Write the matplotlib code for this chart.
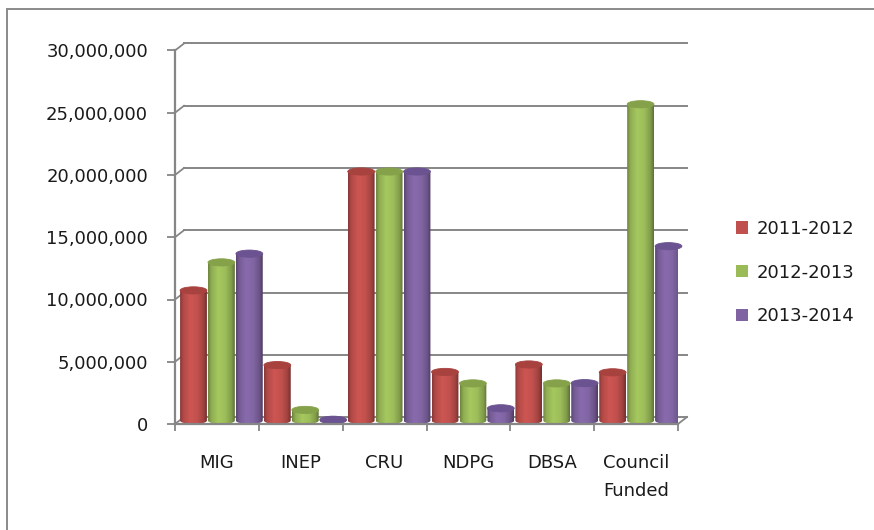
import numpy as np
import matplotlib
matplotlib.use("Agg")
import matplotlib.pyplot as plt
from matplotlib.patches import Ellipse, PathPatch, Rectangle, Patch
from matplotlib.path import Path
from matplotlib.transforms import ScaledTranslation

# ---- data -------------------------------------------------------------
categories = ["MIG", "INEP", "CRU", "NDPG", "DBSA", "Council\nFunded"]
series_names = ["2011-2012", "2012-2013", "2013-2014"]
values_2011_2012 = [10_450_000, 4_450_000, 20_000_000, 3_900_000, 4_500_000, 3_870_000]
values_2012_2013 = [12_700_000, 850_000, 20_000_000, 2_980_000, 2_980_000, 25_400_000]
values_2013_2014 = [13_400_000, 60_000, 20_000_000, 980_000, 3_000_000, 14_000_000]
y_ticks = [0, 5_000_000, 10_000_000, 15_000_000, 20_000_000, 25_000_000, 30_000_000]

series_values = [values_2011_2012, values_2012_2013, values_2013_2014]
base_colors = ["#C0504D", "#9BBB59", "#8064A2"]
top_colors = ["#A8423F", "#85A24A", "#6B5290"]

W, H, DPI = 874, 530, 100
plt.rcParams["font.family"] = ["DejaVu Sans"]
text_color = "#1a1a1a"
axis_color = "#868686"

fig = plt.figure(figsize=(W / DPI, H / DPI), dpi=DPI)
fig.patch.set_facecolor("white")

# chart-area border (only its left and top edges fall inside the image)
fig.add_artist(Rectangle((7 / W, -0.2), 1.5, 1 - 9 / H + 0.2,
                         transform=fig.transFigure, fill=False,
                         edgecolor="#8a8a8a", linewidth=1.4))

# front plane of the plot area
left_px, right_px, top_px, bottom_px = 175, 678, 50.5, 424
ax = fig.add_axes([left_px / W, (H - bottom_px) / H,
                   (right_px - left_px) / W, (bottom_px - top_px) / H])
ax.set_xlim(-0.5, len(categories) - 0.5)
ax.set_ylim(0, 30_000_000)
ax.patch.set_visible(False)

# pixel scales of the data axes
p00 = ax.transData.transform((0, 0))
sx = ax.transData.transform((1, 0))[0] - p00[0]
sy = (ax.transData.transform((0, 1_000_000))[1] - p00[1]) / 1_000_000


def depth(dx_px, dy_px):
    return ax.transData + ScaledTranslation(dx_px / DPI, dy_px / DPI, fig.dpi_scale_trans)


back_dx, back_dy = 9, 7
mid_dx, mid_dy = back_dx / 2, back_dy / 2
x_lo, x_hi = -0.5, len(categories) - 0.5

# back-wall gridlines and the short diagonals joining them to the front axis
for v in y_ticks:
    ax.plot([x_lo, x_hi], [v, v], color=axis_color, lw=1.4,
            transform=depth(back_dx, back_dy), clip_on=False, zorder=1)
    ax.plot([x_lo, x_lo + back_dx / sx], [v, v + back_dy / sy], color=axis_color,
            lw=1.3, clip_on=False, zorder=1)
ax.plot([x_hi, x_hi + back_dx / sx], [0, back_dy / sy], color=axis_color,
        lw=1.3, clip_on=False, zorder=6)

# cylinder columns
bar_w = 0.32
step = 0.333
ell_h = 3.6 / sy  # half height of the end ellipses, in data units
shade_t = np.array([0.0, 0.12, 0.38, 0.65, 0.88, 1.0])
shade_f = np.array([0.70, 0.92, 1.07, 1.01, 0.83, 0.60])
tt = np.linspace(0, 1, 96)
profile = np.interp(tt, shade_t, shade_f)

for j, (vals, base, topc) in enumerate(zip(series_values, base_colors, top_colors)):
    rgb = np.array(matplotlib.colors.to_rgb(base))
    grad = np.clip(rgb[None, :] * profile[:, None], 0, 1)[None, :, :]
    tr = depth(mid_dx, mid_dy)
    for i, v in enumerate(vals):
        cx = i + (j - 1) * step
        x0, x1 = cx - bar_w / 2, cx + bar_w / 2
        th = np.linspace(np.pi, 2 * np.pi, 40)
        bx = cx + bar_w / 2 * np.cos(th)
        by = ell_h * np.sin(th)
        verts = list(zip(bx, by)) + [(x1, v), (x0, v), (x0, 0)]
        codes = [Path.MOVETO] + [Path.LINETO] * (len(verts) - 2) + [Path.CLOSEPOLY]
        body = PathPatch(Path(verts, codes), transform=tr, facecolor="none",
                         edgecolor="none", clip_on=False, zorder=3)
        ax.add_patch(body)
        im = ax.imshow(grad, extent=(x0, x1, -ell_h, v + ell_h), aspect="auto",
                       interpolation="bilinear", zorder=3)
        im.set_transform(tr)
        im.set_clip_path(body)
        top = Ellipse((cx, v), bar_w, 2 * ell_h, transform=tr, facecolor=topc,
                      edgecolor=topc, lw=0.6, clip_on=False, zorder=4)
        ax.add_patch(top)

ax.set_xlim(x_lo, x_hi)
ax.set_ylim(0, 30_000_000)

# front axes
for s in ("top", "right"):
    ax.spines[s].set_visible(False)
for s in ("left", "bottom"):
    ax.spines[s].set_color(axis_color)
    ax.spines[s].set_linewidth(1.6)
    ax.spines[s].set_zorder(6)

ax.set_yticks(y_ticks)
ax.set_yticklabels([f"{v:,}" for v in y_ticks])
ax.tick_params(axis="y", length=8 * 0.72, width=1.3, color=axis_color,
               pad=19 * 0.72, labelsize=13, labelcolor=text_color)

ax.set_xticks(range(len(categories)))
ax.set_xticklabels(categories, linespacing=1.75, va="top")
ax.set_xticks(np.arange(len(categories) + 1) - 0.5, minor=True)
ax.tick_params(axis="x", which="major", length=0, pad=29.5 * 0.72,
               labelsize=13, labelcolor=text_color)
ax.tick_params(axis="x", which="minor", length=7 * 0.72, width=1.3, color=axis_color)

# legend
handles = [Patch(facecolor=c, edgecolor="none") for c in base_colors]
fig.legend(handles, series_names, loc="center left",
           bbox_to_anchor=(736 / W, (H - 272.5) / H), frameon=False,
           borderpad=0, borderaxespad=0, fontsize=13, labelcolor=text_color,
           handlelength=0.667, handleheight=0.667, handletextpad=0.5,
           labelspacing=1.42)

fig.savefig("out.png", dpi=DPI, facecolor="white")
